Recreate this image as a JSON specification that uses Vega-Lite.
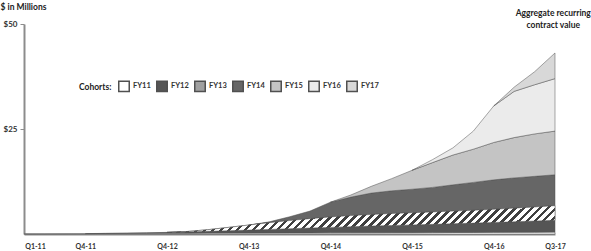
{
  "$schema": "https://vega.github.io/schema/vega-lite/v6.json",
  "width": 531,
  "height": 210,
  "autosize": "none",
  "padding": {"left": 24, "top": 24, "right": 36, "bottom": 17},
  "background": "white",
  "config": {
    "font": "Lato",
    "view": {"stroke": null},
    "title": {"font": "Lato", "fontSize": 8.5, "fontWeight": "bold", "color": "#222"}
  },
  "title": {"text": ["Aggregate recurring", "contract value"], "anchor": "end", "align": "center", "offset": -27, "dx": -12, "lineHeight": 12},
  "data": {
    "values": [
      {"q": "Q1-11", "cohort": "FY11", "value": 0},
      {"q": "Q2-11", "cohort": "FY11", "value": 0.03},
      {"q": "Q3-11", "cohort": "FY11", "value": 0.06},
      {"q": "Q4-11", "cohort": "FY11", "value": 0.1},
      {"q": "Q1-12", "cohort": "FY11", "value": 0.13},
      {"q": "Q2-12", "cohort": "FY11", "value": 0.15},
      {"q": "Q3-12", "cohort": "FY11", "value": 0.17},
      {"q": "Q4-12", "cohort": "FY11", "value": 0.19},
      {"q": "Q1-13", "cohort": "FY11", "value": 0.2},
      {"q": "Q2-13", "cohort": "FY11", "value": 0.21},
      {"q": "Q3-13", "cohort": "FY11", "value": 0.22},
      {"q": "Q4-13", "cohort": "FY11", "value": 0.23},
      {"q": "Q1-14", "cohort": "FY11", "value": 0.24},
      {"q": "Q2-14", "cohort": "FY11", "value": 0.25},
      {"q": "Q3-14", "cohort": "FY11", "value": 0.26},
      {"q": "Q4-14", "cohort": "FY11", "value": 0.27},
      {"q": "Q1-15", "cohort": "FY11", "value": 0.28},
      {"q": "Q2-15", "cohort": "FY11", "value": 0.29},
      {"q": "Q3-15", "cohort": "FY11", "value": 0.3},
      {"q": "Q4-15", "cohort": "FY11", "value": 0.31},
      {"q": "Q1-16", "cohort": "FY11", "value": 0.33},
      {"q": "Q2-16", "cohort": "FY11", "value": 0.35},
      {"q": "Q3-16", "cohort": "FY11", "value": 0.37},
      {"q": "Q4-16", "cohort": "FY11", "value": 0.39},
      {"q": "Q1-17", "cohort": "FY11", "value": 0.41},
      {"q": "Q2-17", "cohort": "FY11", "value": 0.43},
      {"q": "Q3-17", "cohort": "FY11", "value": 0.45},
      {"q": "Q4-11", "cohort": "FY12", "value": 0},
      {"q": "Q1-12", "cohort": "FY12", "value": 0.02},
      {"q": "Q2-12", "cohort": "FY12", "value": 0.06},
      {"q": "Q3-12", "cohort": "FY12", "value": 0.12},
      {"q": "Q4-12", "cohort": "FY12", "value": 0.2},
      {"q": "Q1-13", "cohort": "FY12", "value": 0.3},
      {"q": "Q2-13", "cohort": "FY12", "value": 0.42},
      {"q": "Q3-13", "cohort": "FY12", "value": 0.55},
      {"q": "Q4-13", "cohort": "FY12", "value": 0.7},
      {"q": "Q1-14", "cohort": "FY12", "value": 0.85},
      {"q": "Q2-14", "cohort": "FY12", "value": 1.0},
      {"q": "Q3-14", "cohort": "FY12", "value": 1.15},
      {"q": "Q4-14", "cohort": "FY12", "value": 1.3},
      {"q": "Q1-15", "cohort": "FY12", "value": 1.45},
      {"q": "Q2-15", "cohort": "FY12", "value": 1.6},
      {"q": "Q3-15", "cohort": "FY12", "value": 1.73},
      {"q": "Q4-15", "cohort": "FY12", "value": 1.85},
      {"q": "Q1-16", "cohort": "FY12", "value": 1.97},
      {"q": "Q2-16", "cohort": "FY12", "value": 2.1},
      {"q": "Q3-16", "cohort": "FY12", "value": 2.22},
      {"q": "Q4-16", "cohort": "FY12", "value": 2.35},
      {"q": "Q1-17", "cohort": "FY12", "value": 2.5},
      {"q": "Q2-17", "cohort": "FY12", "value": 2.65},
      {"q": "Q3-17", "cohort": "FY12", "value": 2.8},
      {"q": "Q4-12", "cohort": "FY13", "value": 0},
      {"q": "Q1-13", "cohort": "FY13", "value": 0.1},
      {"q": "Q2-13", "cohort": "FY13", "value": 0.4},
      {"q": "Q3-13", "cohort": "FY13", "value": 0.8},
      {"q": "Q4-13", "cohort": "FY13", "value": 1.2},
      {"q": "Q1-14", "cohort": "FY13", "value": 1.6},
      {"q": "Q2-14", "cohort": "FY13", "value": 1.95},
      {"q": "Q3-14", "cohort": "FY13", "value": 2.25},
      {"q": "Q4-14", "cohort": "FY13", "value": 2.5},
      {"q": "Q1-15", "cohort": "FY13", "value": 2.65},
      {"q": "Q2-15", "cohort": "FY13", "value": 2.75},
      {"q": "Q3-15", "cohort": "FY13", "value": 2.85},
      {"q": "Q4-15", "cohort": "FY13", "value": 2.9},
      {"q": "Q1-16", "cohort": "FY13", "value": 2.95},
      {"q": "Q2-16", "cohort": "FY13", "value": 3.0},
      {"q": "Q3-16", "cohort": "FY13", "value": 3.05},
      {"q": "Q4-16", "cohort": "FY13", "value": 3.15},
      {"q": "Q1-17", "cohort": "FY13", "value": 3.25},
      {"q": "Q2-17", "cohort": "FY13", "value": 3.35},
      {"q": "Q3-17", "cohort": "FY13", "value": 3.5},
      {"q": "Q4-13", "cohort": "FY14", "value": 0},
      {"q": "Q1-14", "cohort": "FY14", "value": 0.2},
      {"q": "Q2-14", "cohort": "FY14", "value": 0.9},
      {"q": "Q3-14", "cohort": "FY14", "value": 1.8},
      {"q": "Q4-14", "cohort": "FY14", "value": 3.5},
      {"q": "Q1-15", "cohort": "FY14", "value": 4.4},
      {"q": "Q2-15", "cohort": "FY14", "value": 5.1},
      {"q": "Q3-15", "cohort": "FY14", "value": 5.4},
      {"q": "Q4-15", "cohort": "FY14", "value": 5.6},
      {"q": "Q1-16", "cohort": "FY14", "value": 5.85},
      {"q": "Q2-16", "cohort": "FY14", "value": 6.25},
      {"q": "Q3-16", "cohort": "FY14", "value": 6.65},
      {"q": "Q4-16", "cohort": "FY14", "value": 7.0},
      {"q": "Q1-17", "cohort": "FY14", "value": 7.2},
      {"q": "Q2-17", "cohort": "FY14", "value": 7.3},
      {"q": "Q3-17", "cohort": "FY14", "value": 7.35},
      {"q": "Q4-14", "cohort": "FY15", "value": 0},
      {"q": "Q1-15", "cohort": "FY15", "value": 0.5},
      {"q": "Q2-15", "cohort": "FY15", "value": 1.6},
      {"q": "Q3-15", "cohort": "FY15", "value": 2.9},
      {"q": "Q4-15", "cohort": "FY15", "value": 4.5},
      {"q": "Q1-16", "cohort": "FY15", "value": 5.9},
      {"q": "Q2-16", "cohort": "FY15", "value": 7.1},
      {"q": "Q3-16", "cohort": "FY15", "value": 7.9},
      {"q": "Q4-16", "cohort": "FY15", "value": 8.9},
      {"q": "Q1-17", "cohort": "FY15", "value": 9.6},
      {"q": "Q2-17", "cohort": "FY15", "value": 10.1},
      {"q": "Q3-17", "cohort": "FY15", "value": 10.4},
      {"q": "Q4-15", "cohort": "FY16", "value": 0},
      {"q": "Q1-16", "cohort": "FY16", "value": 0.7},
      {"q": "Q2-16", "cohort": "FY16", "value": 1.7},
      {"q": "Q3-16", "cohort": "FY16", "value": 4.3},
      {"q": "Q4-16", "cohort": "FY16", "value": 8.7},
      {"q": "Q1-17", "cohort": "FY16", "value": 11.0},
      {"q": "Q2-17", "cohort": "FY16", "value": 11.7},
      {"q": "Q3-17", "cohort": "FY16", "value": 12.5},
      {"q": "Q4-16", "cohort": "FY17", "value": 0},
      {"q": "Q1-17", "cohort": "FY17", "value": 1.0},
      {"q": "Q2-17", "cohort": "FY17", "value": 3.1},
      {"q": "Q3-17", "cohort": "FY17", "value": 6.1}
    ]
  },
  "transform": [
    {"stack": "value", "groupby": ["q"], "sort": [{"field": "cohort", "order": "ascending"}], "as": ["y0", "y1"]}
  ],
  "encoding": {
    "x": {
      "field": "q",
      "type": "ordinal",
      "sort": ["Q1-11","Q2-11","Q3-11","Q4-11","Q1-12","Q2-12","Q3-12","Q4-12","Q1-13","Q2-13","Q3-13","Q4-13","Q1-14","Q2-14","Q3-14","Q4-14","Q1-15","Q2-15","Q3-15","Q4-15","Q1-16","Q2-16","Q3-16","Q4-16","Q1-17","Q2-17","Q3-17"],
      "scale": {"type": "point", "padding": 0},
      "axis": {
        "values": ["Q1-11","Q4-11","Q4-12","Q4-13","Q4-14","Q4-15","Q4-16","Q3-17"],
        "title": null,
        "ticks": false,
        "labelAngle": 0,
        "labelAlign": "center",
        "labelFlush": false,
        "labelBound": false,
        "labelOverlap": false,
        "labelOffset": {"condition": {"test": "datum.value === 'Q1-11'", "value": 11}, "value": 0},
        "labelFontSize": 7,
        "labelFontWeight": "bold",
        "labelColor": "#333333",
        "labelPadding": 8,
        "domainColor": "#8c8c8c",
        "domainWidth": 2
      }
    },
    "y": {
      "field": "y1",
      "type": "quantitative",
      "scale": {"domain": [0, 50], "nice": false},
      "axis": {
        "values": [25, 50],
        "labelExpr": "'$' + datum.value",
        "grid": false,
        "domainColor": "#8c8c8c",
        "domainWidth": 2,
        "tickColor": "#8c8c8c",
        "tickSize": 4,
        "labelFontSize": 8,
        "labelFontWeight": "bold",
        "labelColor": "#333333",
        "labelPadding": 3,
        "title": "$ in Millions",
        "titleAngle": 0,
        "titleX": -24,
        "titleY": -18,
        "titleAlign": "left",
        "titleBaseline": "middle",
        "titleFontSize": 8.5,
        "titleFontWeight": "bold",
        "titleColor": "#222222"
      }
    },
    "y2": {"field": "y0"}
  },
  "layer": [
    {
      "mark": {"type": "area", "interpolate": "linear", "stroke": "#505050", "strokeWidth": 0.5, "opacity": 1},
      "encoding": {
        "fill": {
          "field": "cohort",
          "type": "nominal",
          "scale": {
            "domain": ["FY11", "FY12", "FY13", "FY14", "FY15", "FY16", "FY17"],
            "range": ["#ffffff", "#555555", "#a0a0a0", "#666666", "#c4c4c4", "#ebebeb", "#d8d8d8"]
          },
          "legend": {
            "orient": "none",
            "legendX": 55,
            "legendY": 56,
            "direction": "horizontal",
            "title": "Cohorts:",
            "titleOrient": "left",
            "titleFontSize": 8.5,
            "titleFontWeight": "bold",
            "titleColor": "#222222",
            "titlePadding": 6,
            "symbolType": "square",
            "symbolSize": 110,
            "symbolOpacity": 1,
            "labelFontSize": 7.5,
            "labelFontWeight": "bold",
            "labelColor": "#333333",
            "labelOffset": 3,
            "columnPadding": 2,
            "padding": 0,
            "encode": {
              "symbols": {
                "enter": {
                  "stroke": {"value": "#444444"},
                  "strokeWidth": {"value": 0.6}
                },
                "update": {
                  "stroke": {"value": "#444444"},
                  "strokeWidth": {"value": 0.6}
                }
              }
            }
          }
        }
      }
    },
    {
      "transform": [{"filter": "datum.cohort === 'FY13'"}],
      "mark": {
        "type": "area", "interpolate": "linear", "stroke": "#505050", "strokeWidth": 0.5, "opacity": 1,
        "fill": {"gradient": "linear", "x1": 0, "y1": 0, "x2": 1.07, "y2": 0.074, "stops": [
          {"offset": 0, "color": "#ffffff"}, {"offset": 0.0106, "color": "#ffffff"}, {"offset": 0.0106, "color": "#404040"}, {"offset": 0.0192, "color": "#404040"},
          {"offset": 0.0192, "color": "#ffffff"}, {"offset": 0.0298, "color": "#ffffff"}, {"offset": 0.0298, "color": "#404040"}, {"offset": 0.0385, "color": "#404040"},
          {"offset": 0.0385, "color": "#ffffff"}, {"offset": 0.0490, "color": "#ffffff"}, {"offset": 0.0490, "color": "#404040"}, {"offset": 0.0577, "color": "#404040"},
          {"offset": 0.0577, "color": "#ffffff"}, {"offset": 0.0683, "color": "#ffffff"}, {"offset": 0.0683, "color": "#404040"}, {"offset": 0.0769, "color": "#404040"},
          {"offset": 0.0769, "color": "#ffffff"}, {"offset": 0.0875, "color": "#ffffff"}, {"offset": 0.0875, "color": "#404040"}, {"offset": 0.0962, "color": "#404040"},
          {"offset": 0.0962, "color": "#ffffff"}, {"offset": 0.1067, "color": "#ffffff"}, {"offset": 0.1067, "color": "#404040"}, {"offset": 0.1154, "color": "#404040"},
          {"offset": 0.1154, "color": "#ffffff"}, {"offset": 0.1260, "color": "#ffffff"}, {"offset": 0.1260, "color": "#404040"}, {"offset": 0.1346, "color": "#404040"},
          {"offset": 0.1346, "color": "#ffffff"}, {"offset": 0.1452, "color": "#ffffff"}, {"offset": 0.1452, "color": "#404040"}, {"offset": 0.1538, "color": "#404040"},
          {"offset": 0.1538, "color": "#ffffff"}, {"offset": 0.1644, "color": "#ffffff"}, {"offset": 0.1644, "color": "#404040"}, {"offset": 0.1731, "color": "#404040"},
          {"offset": 0.1731, "color": "#ffffff"}, {"offset": 0.1837, "color": "#ffffff"}, {"offset": 0.1837, "color": "#404040"}, {"offset": 0.1923, "color": "#404040"},
          {"offset": 0.1923, "color": "#ffffff"}, {"offset": 0.2029, "color": "#ffffff"}, {"offset": 0.2029, "color": "#404040"}, {"offset": 0.2115, "color": "#404040"},
          {"offset": 0.2115, "color": "#ffffff"}, {"offset": 0.2221, "color": "#ffffff"}, {"offset": 0.2221, "color": "#404040"}, {"offset": 0.2308, "color": "#404040"},
          {"offset": 0.2308, "color": "#ffffff"}, {"offset": 0.2413, "color": "#ffffff"}, {"offset": 0.2413, "color": "#404040"}, {"offset": 0.2500, "color": "#404040"},
          {"offset": 0.2500, "color": "#ffffff"}, {"offset": 0.2606, "color": "#ffffff"}, {"offset": 0.2606, "color": "#404040"}, {"offset": 0.2692, "color": "#404040"},
          {"offset": 0.2692, "color": "#ffffff"}, {"offset": 0.2798, "color": "#ffffff"}, {"offset": 0.2798, "color": "#404040"}, {"offset": 0.2885, "color": "#404040"},
          {"offset": 0.2885, "color": "#ffffff"}, {"offset": 0.2990, "color": "#ffffff"}, {"offset": 0.2990, "color": "#404040"}, {"offset": 0.3077, "color": "#404040"},
          {"offset": 0.3077, "color": "#ffffff"}, {"offset": 0.3183, "color": "#ffffff"}, {"offset": 0.3183, "color": "#404040"}, {"offset": 0.3269, "color": "#404040"},
          {"offset": 0.3269, "color": "#ffffff"}, {"offset": 0.3375, "color": "#ffffff"}, {"offset": 0.3375, "color": "#404040"}, {"offset": 0.3462, "color": "#404040"},
          {"offset": 0.3462, "color": "#ffffff"}, {"offset": 0.3567, "color": "#ffffff"}, {"offset": 0.3567, "color": "#404040"}, {"offset": 0.3654, "color": "#404040"},
          {"offset": 0.3654, "color": "#ffffff"}, {"offset": 0.3760, "color": "#ffffff"}, {"offset": 0.3760, "color": "#404040"}, {"offset": 0.3846, "color": "#404040"},
          {"offset": 0.3846, "color": "#ffffff"}, {"offset": 0.3952, "color": "#ffffff"}, {"offset": 0.3952, "color": "#404040"}, {"offset": 0.4038, "color": "#404040"},
          {"offset": 0.4038, "color": "#ffffff"}, {"offset": 0.4144, "color": "#ffffff"}, {"offset": 0.4144, "color": "#404040"}, {"offset": 0.4231, "color": "#404040"},
          {"offset": 0.4231, "color": "#ffffff"}, {"offset": 0.4337, "color": "#ffffff"}, {"offset": 0.4337, "color": "#404040"}, {"offset": 0.4423, "color": "#404040"},
          {"offset": 0.4423, "color": "#ffffff"}, {"offset": 0.4529, "color": "#ffffff"}, {"offset": 0.4529, "color": "#404040"}, {"offset": 0.4615, "color": "#404040"},
          {"offset": 0.4615, "color": "#ffffff"}, {"offset": 0.4721, "color": "#ffffff"}, {"offset": 0.4721, "color": "#404040"}, {"offset": 0.4808, "color": "#404040"},
          {"offset": 0.4808, "color": "#ffffff"}, {"offset": 0.4913, "color": "#ffffff"}, {"offset": 0.4913, "color": "#404040"}, {"offset": 0.5000, "color": "#404040"},
          {"offset": 0.5000, "color": "#ffffff"}, {"offset": 0.5106, "color": "#ffffff"}, {"offset": 0.5106, "color": "#404040"}, {"offset": 0.5192, "color": "#404040"},
          {"offset": 0.5192, "color": "#ffffff"}, {"offset": 0.5298, "color": "#ffffff"}, {"offset": 0.5298, "color": "#404040"}, {"offset": 0.5385, "color": "#404040"},
          {"offset": 0.5385, "color": "#ffffff"}, {"offset": 0.5490, "color": "#ffffff"}, {"offset": 0.5490, "color": "#404040"}, {"offset": 0.5577, "color": "#404040"},
          {"offset": 0.5577, "color": "#ffffff"}, {"offset": 0.5683, "color": "#ffffff"}, {"offset": 0.5683, "color": "#404040"}, {"offset": 0.5769, "color": "#404040"},
          {"offset": 0.5769, "color": "#ffffff"}, {"offset": 0.5875, "color": "#ffffff"}, {"offset": 0.5875, "color": "#404040"}, {"offset": 0.5962, "color": "#404040"},
          {"offset": 0.5962, "color": "#ffffff"}, {"offset": 0.6067, "color": "#ffffff"}, {"offset": 0.6067, "color": "#404040"}, {"offset": 0.6154, "color": "#404040"},
          {"offset": 0.6154, "color": "#ffffff"}, {"offset": 0.6260, "color": "#ffffff"}, {"offset": 0.6260, "color": "#404040"}, {"offset": 0.6346, "color": "#404040"},
          {"offset": 0.6346, "color": "#ffffff"}, {"offset": 0.6452, "color": "#ffffff"}, {"offset": 0.6452, "color": "#404040"}, {"offset": 0.6538, "color": "#404040"},
          {"offset": 0.6538, "color": "#ffffff"}, {"offset": 0.6644, "color": "#ffffff"}, {"offset": 0.6644, "color": "#404040"}, {"offset": 0.6731, "color": "#404040"},
          {"offset": 0.6731, "color": "#ffffff"}, {"offset": 0.6837, "color": "#ffffff"}, {"offset": 0.6837, "color": "#404040"}, {"offset": 0.6923, "color": "#404040"},
          {"offset": 0.6923, "color": "#ffffff"}, {"offset": 0.7029, "color": "#ffffff"}, {"offset": 0.7029, "color": "#404040"}, {"offset": 0.7115, "color": "#404040"},
          {"offset": 0.7115, "color": "#ffffff"}, {"offset": 0.7221, "color": "#ffffff"}, {"offset": 0.7221, "color": "#404040"}, {"offset": 0.7308, "color": "#404040"},
          {"offset": 0.7308, "color": "#ffffff"}, {"offset": 0.7413, "color": "#ffffff"}, {"offset": 0.7413, "color": "#404040"}, {"offset": 0.7500, "color": "#404040"},
          {"offset": 0.7500, "color": "#ffffff"}, {"offset": 0.7606, "color": "#ffffff"}, {"offset": 0.7606, "color": "#404040"}, {"offset": 0.7692, "color": "#404040"},
          {"offset": 0.7692, "color": "#ffffff"}, {"offset": 0.7798, "color": "#ffffff"}, {"offset": 0.7798, "color": "#404040"}, {"offset": 0.7885, "color": "#404040"},
          {"offset": 0.7885, "color": "#ffffff"}, {"offset": 0.7990, "color": "#ffffff"}, {"offset": 0.7990, "color": "#404040"}, {"offset": 0.8077, "color": "#404040"},
          {"offset": 0.8077, "color": "#ffffff"}, {"offset": 0.8183, "color": "#ffffff"}, {"offset": 0.8183, "color": "#404040"}, {"offset": 0.8269, "color": "#404040"},
          {"offset": 0.8269, "color": "#ffffff"}, {"offset": 0.8375, "color": "#ffffff"}, {"offset": 0.8375, "color": "#404040"}, {"offset": 0.8462, "color": "#404040"},
          {"offset": 0.8462, "color": "#ffffff"}, {"offset": 0.8567, "color": "#ffffff"}, {"offset": 0.8567, "color": "#404040"}, {"offset": 0.8654, "color": "#404040"},
          {"offset": 0.8654, "color": "#ffffff"}, {"offset": 0.8760, "color": "#ffffff"}, {"offset": 0.8760, "color": "#404040"}, {"offset": 0.8846, "color": "#404040"},
          {"offset": 0.8846, "color": "#ffffff"}, {"offset": 0.8952, "color": "#ffffff"}, {"offset": 0.8952, "color": "#404040"}, {"offset": 0.9038, "color": "#404040"},
          {"offset": 0.9038, "color": "#ffffff"}, {"offset": 0.9144, "color": "#ffffff"}, {"offset": 0.9144, "color": "#404040"}, {"offset": 0.9231, "color": "#404040"},
          {"offset": 0.9231, "color": "#ffffff"}, {"offset": 0.9337, "color": "#ffffff"}, {"offset": 0.9337, "color": "#404040"}, {"offset": 0.9423, "color": "#404040"},
          {"offset": 0.9423, "color": "#ffffff"}, {"offset": 0.9529, "color": "#ffffff"}, {"offset": 0.9529, "color": "#404040"}, {"offset": 0.9615, "color": "#404040"},
          {"offset": 0.9615, "color": "#ffffff"}, {"offset": 0.9721, "color": "#ffffff"}, {"offset": 0.9721, "color": "#404040"}, {"offset": 0.9808, "color": "#404040"},
          {"offset": 0.9808, "color": "#ffffff"}, {"offset": 0.9913, "color": "#ffffff"}, {"offset": 0.9913, "color": "#404040"}, {"offset": 1, "color": "#404040"}
        ]}
      },
      "encoding": {}
    }
  ]
}
